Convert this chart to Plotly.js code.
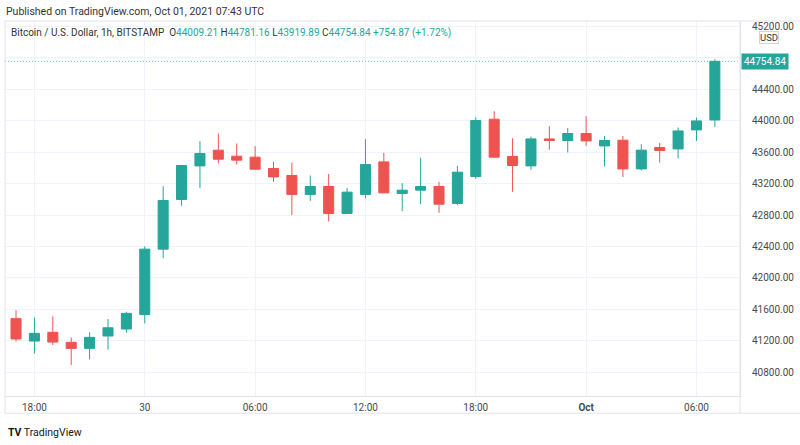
<!DOCTYPE html>
<html><head><meta charset="utf-8">
<script src="https://cdn.plot.ly/plotly-3.0.1.min.js"></script>
<style>html,body{margin:0;padding:0;background:#fff;}#chart{width:800px;height:445px;}</style>
</head><body><div id="chart"></div>
<script>
const times = ["2021-09-29 17:00","2021-09-29 18:00","2021-09-29 19:00","2021-09-29 20:00","2021-09-29 21:00","2021-09-29 22:00","2021-09-29 23:00",
"2021-09-30 00:00","2021-09-30 01:00","2021-09-30 02:00","2021-09-30 03:00","2021-09-30 04:00","2021-09-30 05:00","2021-09-30 06:00","2021-09-30 07:00",
"2021-09-30 08:00","2021-09-30 09:00","2021-09-30 10:00","2021-09-30 11:00","2021-09-30 12:00","2021-09-30 13:00","2021-09-30 14:00","2021-09-30 15:00",
"2021-09-30 16:00","2021-09-30 17:00","2021-09-30 18:00","2021-09-30 19:00","2021-09-30 20:00","2021-09-30 21:00","2021-09-30 22:00","2021-09-30 23:00",
"2021-10-01 00:00","2021-10-01 01:00","2021-10-01 02:00","2021-10-01 03:00","2021-10-01 04:00","2021-10-01 05:00","2021-10-01 06:00","2021-10-01 07:00"];
const openV  = [41482,41197,41308,41181,41104,41261,41350,41536,42366,42998,43425,43625,43548,43536,43392,43303,43062,43163,42820,43062,43476,43074,43116,43163,42947,43290,44019,43545,43425,43768,43748,43837,43679,43752,43387,43659,43641,43883,44009.21];
const highV  = [41588,41498,41511,41244,41308,41477,41570,42401,43167,43432,43739,43837,43710,43676,43476,43468,43303,43323,43142,43765,43590,43205,43527,43222,43425,44044,44120,43777,43798,43930,43908,44057,43806,43806,43701,43718,43913,44040,44781.16];
const lowV   = [41190,41036,41146,40892,40964,41087,41303,41422,42252,42917,43142,43456,43443,43374,43222,42799,42980,42718,42815,43011,43080,42849,42938,42828,42926,43260,43530,43095,43374,43629,43595,43679,43418,43285,43367,43468,43519,43743,43919.89];
const closeV = [41223,41295,41184,41104,41244,41366,41549,42366,42985,43430,43583,43510,43498,43383,43285,43062,43163,42820,43091,43443,43082,43116,43163,42938,43345,44002,43536,43430,43768,43748,43837,43743,43748,43387,43625,43621,43870,43997,44754.84];
const xTickVals = ["2021-09-29 18:00","2021-09-30 00:00","2021-09-30 06:00","2021-09-30 12:00","2021-09-30 18:00","2021-10-01 00:00","2021-10-01 06:00"];
const xTickText = ["18:00","30","06:00","12:00","18:00","<b>Oct</b>","06:00"];
const yTickVals = [40800,41200,41600,42000,42400,42800,43200,43600,44000,44400,44800,45200];
const yTickText = ["40800.00","41200.00","41600.00","42000.00","42400.00","42800.00","43200.00","43600.00","44000.00","44400.00","","45200.00"];
const lastPrice = 44754.84;

const UP = '#26a69a', DOWN = '#ef5350', GRID = '#f0f3fa', BORDER = '#e0e3eb', TXT = '#4a4a4a';
const FONT = 'Roboto, sans-serif';

const trace = {
  type: 'candlestick', x: times, open: openV, high: highV, low: lowV, close: closeV,
  increasing: {line: {color: UP, width: 1}, fillcolor: UP},
  decreasing: {line: {color: DOWN, width: 1}, fillcolor: DOWN},
  whiskerwidth: 0, hoverinfo: 'skip'
};

const legendText = '<span style="color:#333">Bitcoin / U.S. Dollar, 1h, BITSTAMP  O</span><span style="color:'+UP+'">44009.21</span>' +
  '<span style="color:#333"> H</span><span style="color:'+UP+'">44781.16</span>' +
  '<span style="color:#333"> L</span><span style="color:'+UP+'">43919.89</span>' +
  '<span style="color:#333"> C</span><span style="color:'+UP+'">44754.84</span>' +
  '<span style="color:'+UP+'"> +754.87 (+1.72%)</span>';

const layout = {
  width: 800, height: 445,
  margin: {l: 5, r: 60, t: 21, b: 49},
  paper_bgcolor: '#ffffff', plot_bgcolor: '#ffffff',
  showlegend: false,
  boxgap: 0.22,
  font: {family: FONT, size: 10, color: TXT},
  xaxis: {
    type: 'date', range: ['2021-09-29 16:24', '2021-10-01 08:22'],
    rangeslider: {visible: false},
    tickvals: xTickVals, ticktext: xTickText,
    showgrid: true, gridcolor: GRID, gridwidth: 1,
    showline: true, linecolor: BORDER, linewidth: 1,
    ticks: '', ticklabelstandoff: 2,
    tickfont: {family: FONT, size: 10, color: TXT}, zeroline: false, fixedrange: true
  },
  yaxis: {
    side: 'right', range: [40498, 45268],
    tickvals: yTickVals, ticktext: yTickText,
    showgrid: true, gridcolor: GRID, gridwidth: 1,
    showline: true, linecolor: BORDER, linewidth: 1,
    ticks: '', ticklabelstandoff: 9,
    tickfont: {family: FONT, size: 10, color: TXT}, zeroline: false, fixedrange: true
  },
  shapes: [
    {type: 'line', xref: 'paper', yref: 'y', x0: 0, x1: 1, y0: lastPrice, y1: lastPrice,
     line: {color: 'rgba(38,166,154,0.75)', width: 1, dash: '1px,2px'}},
    {type: 'line', xref: 'paper', yref: 'paper', x0: 0, x1: 1.0816, y0: -0.046, y1: -0.046, line: {color: BORDER, width: 1}},
    {type: 'line', xref: 'paper', yref: 'paper', x0: 1, x1: 1, y0: -0.046, y1: 1, line: {color: BORDER, width: 1}},
    {type: 'line', xref: 'paper', yref: 'paper', x0: 0, x1: 0, y0: -0.046, y1: 1, line: {color: BORDER, width: 1}},
    {type: 'line', xref: 'paper', yref: 'paper', x0: 0, x1: 1.0816, y0: 1, y1: 1, line: {color: BORDER, width: 1}}
  ],
  annotations: [
    {xref: 'paper', yref: 'paper', x: 0, y: 1, xshift: -1, yshift: 10, xanchor: 'left', yanchor: 'middle',
     text: 'Published on TradingView.com, Oct 01, 2021 07:43 UTC', showarrow: false,
     font: {family: FONT, size: 10.5, color: '#333'}},
    {xref: 'paper', yref: 'paper', x: 0, y: 1, xshift: 4, yshift: -12, xanchor: 'left', yanchor: 'middle',
     text: legendText, showarrow: false, font: {family: FONT, size: 10, color: '#333'}},
    {xref: 'paper', yref: 'y', x: 1, y: lastPrice, xanchor: 'left', yanchor: 'middle', xshift: 1,
     text: '44754.84', showarrow: false, bgcolor: UP, borderpad: 2, font: {family: FONT, size: 10, color: '#ffffff'}},
    {xref: 'paper', yref: 'paper', x: 1, y: 1, xanchor: 'center', yanchor: 'middle', xshift: 29, yshift: -16,
     text: 'USD', showarrow: false, bgcolor: '#ffffff', bordercolor: '#d1d4dc', borderwidth: 1, borderpad: 0,
     font: {family: FONT, size: 9.5, color: '#333'}},
    {xref: 'paper', yref: 'paper', x: 0, y: 0, xanchor: 'left', yanchor: 'middle', xshift: 1, yshift: -36,
     text: '<b>TV</b> TradingView', showarrow: false, font: {family: FONT, size: 10.5, color: '#131722'}}
  ]
};

Plotly.newPlot('chart', [trace], layout, {displayModeBar: false, staticPlot: true});
</script></body></html>
